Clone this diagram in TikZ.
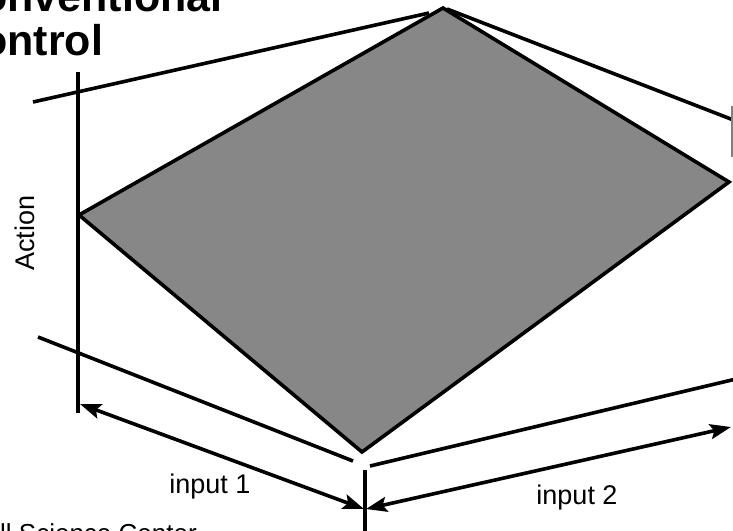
\documentclass[tikz,border=0pt]{standalone}
\usepackage{fontspec}
\setmainfont{Liberation Sans}
\usetikzlibrary{arrows.meta}
\begin{document}
\begin{tikzpicture}[x=1pt,y=-1pt,
  axisline/.style={line width=3.6pt},
  dimarrow/.style={line width=3.6pt, {Stealth[length=21pt,width=15pt,inset=4pt]}-{Stealth[length=21pt,width=15pt,inset=4pt]}},
  surf/.style={fill=black!47, draw=black, line width=3.6pt, line join=miter},
  lbl/.style={font=\fontsize{27}{32}\selectfont, inner sep=0pt},
  ttl/.style={font=\fontsize{43}{48}\selectfont\bfseries, inner sep=0pt, anchor=base west}]
\clip (0,0) rectangle (733,530);
% surface corners
\coordinate (sL) at (79,215);
\coordinate (sT) at (443,8);
\coordinate (sR) at (729,182);
\coordinate (sB) at (362,452);
\draw[surf] (sL) -- (sT) -- (sR) -- (sB) -- cycle;
% axis and frame lines
\coordinate (vTop) at (78,72);
\coordinate (vBot) at (78,413);
\draw[axisline] (vTop) -- (vBot);
\coordinate (ul1) at (33,102);
\coordinate (ul2) at (429,13);
\draw[axisline] (ul1) -- (ul2);
\coordinate (ur1) at (447,9);
\coordinate (ur2) at (736,121);
\draw[axisline] (ur1) -- (ur2);
\coordinate (ll1) at (38,337);
\coordinate (ll2) at (353,461);
\draw[axisline] (ll1) -- (ll2);
\coordinate (lr1) at (370,466);
\coordinate (lr2) at (736,379);
\draw[axisline] (lr1) -- (lr2);
\coordinate (tk1) at (365,470);
\coordinate (tk2) at (365,535);
\draw[axisline] (tk1) -- (tk2);
\coordinate (rg1) at (732,106);
\coordinate (rg2) at (732,157);
\draw[gray, line width=1.5pt] (rg1) -- (rg2);
% dimension arrows
\coordinate (a1s) at (80,404);
\coordinate (a1e) at (364,509);
\draw[dimarrow] (a1s) -- (a1e);
\coordinate (a2s) at (366,509);
\coordinate (a2e) at (731,427);
\draw[dimarrow] (a2s) -- (a2e);
% labels
\node[lbl] (in1) at (210,487) {input 1};
\node[lbl] (in2) at (577,498) {input 2};
\node[lbl, rotate=90] (act) at (25,233) {Action};
\node[ttl] (t1) at (-19,12) {onventional};
\node[ttl] (t2) at (-19,55) {ontrol};
\node[font=\fontsize{26}{30}\selectfont, inner sep=0pt, anchor=base west] (foot) at (0,542) {ll Science Center};
\end{tikzpicture}
\end{document}
